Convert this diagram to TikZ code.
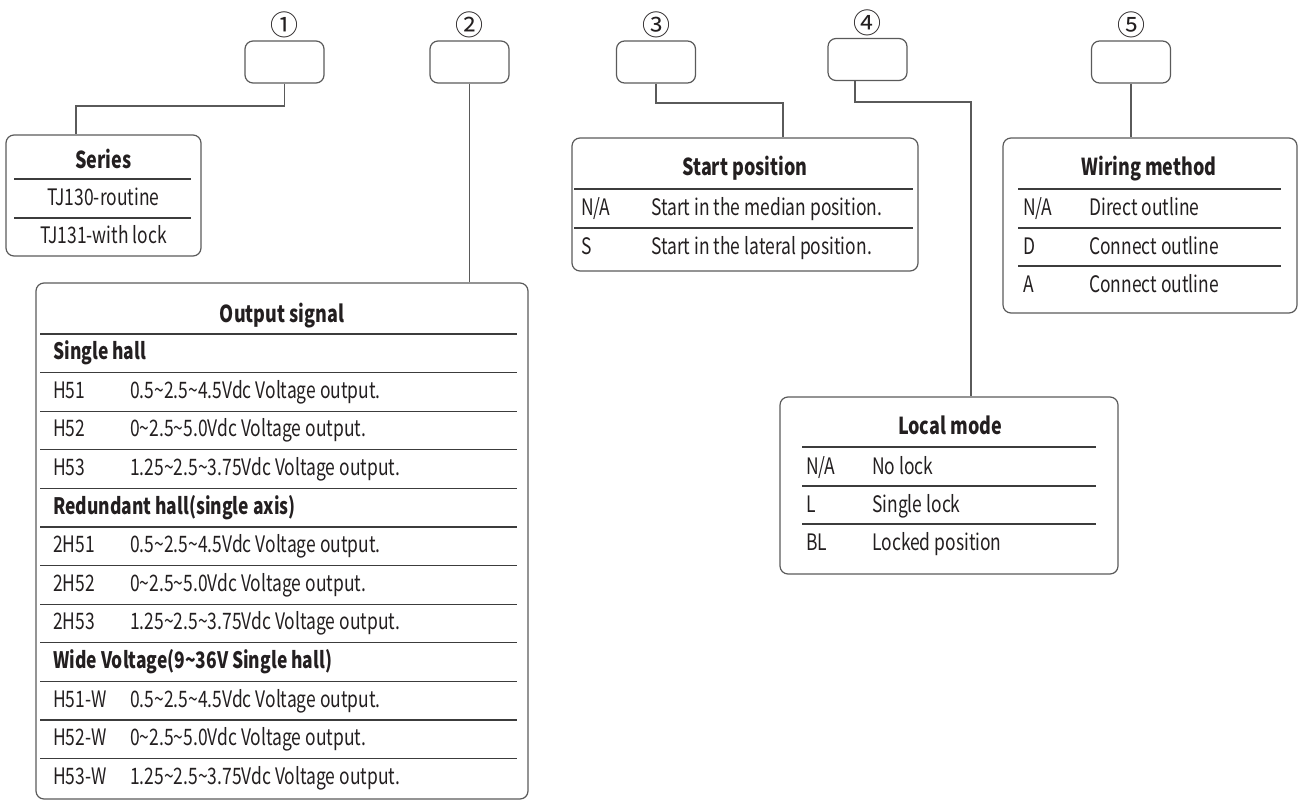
\documentclass[tikz,border=0pt]{standalone}
\usepackage{fontspec}
\setmainfont{Noto Sans CJK SC}[FakeStretch=0.77]
\newfontfamily\circfont{Noto Sans CJK SC}
\usetikzlibrary{positioning}
\definecolor{boxgray}{HTML}{5A5A5A}
\definecolor{rulegray}{HTML}{3C3C3C}
\definecolor{txt}{HTML}{231F20}
\newcommand{\tld}{\textasciitilde{}}
\tikzset{
  keybox/.style={draw=boxgray, line width=0.9pt, rounded corners=6pt, minimum width=59.25pt, minimum height=31.5pt, inner sep=0pt},
  panel/.style={draw=boxgray, line width=0.9pt, rounded corners=6pt, inner sep=0pt},
  numlbl/.style={font=\circfont\fontsize{21}{22}\selectfont, text=txt, inner sep=0pt},
  ttl/.style={font=\fontsize{17.5}{20}\selectfont\bfseries, text=txt, inner sep=0pt, text height=16.8pt, text depth=4pt},
  cell/.style={font=\fontsize{17}{19}\selectfont, text=txt, anchor=west, inner sep=0pt, text height=16.5pt, text depth=4pt},
  ccell/.style={cell, anchor=center},
  grp/.style={cell, font=\fontsize{17}{19}\selectfont\bfseries},
  rule/.style={draw=rulegray, line width=0.8pt},
  wire/.style={draw=boxgray, line width=0.9pt},
}
\begin{document}
\begin{tikzpicture}[x=0.75pt,y=0.75pt,yscale=-1,xscale=1]
\useasboundingbox (0,0) rectangle (1302,810);

% code boxes
\node[keybox] (k1) at (284.5,62) {};
\node[keybox] (k2) at (469.5,62) {};
\node[keybox] (k3) at (656,62) {};
\node[keybox] (k4) at (867.5,59.5) {};
\node[keybox] (k5) at (1131,62) {};
\node[numlbl, above=1.5pt of k1] (n1) {①};
\node[numlbl, above=1.5pt of k2] (n2) {②};
\node[numlbl, above=1.5pt of k3] (n3) {③};
\node[numlbl, above=1.5pt of k4] (n4) {④};
\node[numlbl, above=1.5pt of k5] (n5) {⑤};

% panels
\node[panel, minimum width=146.25pt, minimum height=90.75pt] (series) at (103.5,195.5) {};
\node[panel, minimum width=369pt, minimum height=387pt] (output) at (282,541) {};
\node[panel, minimum width=259.5pt, minimum height=99.75pt] (start) at (745,204.5) {};
\node[panel, minimum width=220.5pt, minimum height=131.25pt] (wiring) at (1150,225.5) {};
\node[panel, minimum width=253.5pt, minimum height=132.75pt] (local) at (949,485.5) {};

% connectors
\coordinate (j1) at (76,106);
\coordinate (j3) at (783,103);
\coordinate (j4) at (971,102);
\draw[wire] (k1.south) |- (j1) -- (j1 |- series.north);
\draw[wire] (k2.south) -- (k2.south |- output.north);
\draw[wire] (k3.south) |- (j3) -- (j3 |- start.north);
\draw[wire] ([xshift=-9.4pt]k4.south) |- (j4) -- (j4 |- local.north);
\draw[wire] (k5.south) -- (k5.south |- wiring.north);

% Series
\node[ttl] (seriesT) at (103.5,160) {Series};
\draw[rule] (14,179) -- (191,179);
\draw[rule] (14,218) -- (191,218);
\node[ccell] (s1) at (103.5,197) {TJ130-routine};
\node[ccell] (s2) at (103.5,235) {TJ131-with lock};

% Output signal
\node[ttl] (outputT) at (282,314) {Output signal};
\draw[rule] (40,334) -- (517,334);
\draw[rule] (40,372.6) -- (517,372.6);
\draw[rule] (40,411.2) -- (517,411.2);
\draw[rule] (40,449.8) -- (517,449.8);
\draw[rule] (40,488.4) -- (517,488.4);
\draw[rule] (40,527) -- (517,527);
\draw[rule] (40,565.6) -- (517,565.6);
\draw[rule] (40,604.2) -- (517,604.2);
\draw[rule] (40,642.8) -- (517,642.8);
\draw[rule] (40,681.4) -- (517,681.4);
\draw[rule] (40,720) -- (517,720);
\draw[rule] (40,758.6) -- (517,758.6);
\node[grp] (g1) at (53,351.5) {Single hall};
\node[cell] (o1) at (53,390) {H51};
\node[cell] (d1) at (130,390) {0.5\tld2.5\tld4.5Vdc Voltage output.};
\node[cell] (o2) at (53,428.5) {H52};
\node[cell] (d2) at (130,428.5) {0\tld2.5\tld5.0Vdc Voltage output.};
\node[cell] (o3) at (53,467) {H53};
\node[cell] (d3) at (130,467) {1.25\tld2.5\tld3.75Vdc Voltage output.};
\node[grp] (g2) at (53,505.7) {Redundant hall(single axis)};
\node[cell] (o4) at (53,544.3) {2H51};
\node[cell] (d4) at (130,544.3) {0.5\tld2.5\tld4.5Vdc Voltage output.};
\node[cell] (o5) at (53,582.9) {2H52};
\node[cell] (d5) at (130,582.9) {0\tld2.5\tld5.0Vdc Voltage output.};
\node[cell] (o6) at (53,621.5) {2H53};
\node[cell] (d6) at (130,621.5) {1.25\tld2.5\tld3.75Vdc Voltage output.};
\node[grp] (g3) at (53,660.1) {Wide Voltage(9\tld36V Single hall)};
\node[cell] (o7) at (53,698.7) {H51-W};
\node[cell] (d7) at (130,698.7) {0.5\tld2.5\tld4.5Vdc Voltage output.};
\node[cell] (o8) at (53,737.3) {H52-W};
\node[cell] (d8) at (130,737.3) {0\tld2.5\tld5.0Vdc Voltage output.};
\node[cell] (o9) at (53,775.9) {H53-W};
\node[cell] (d9) at (130,775.9) {1.25\tld2.5\tld3.75Vdc Voltage output.};

% Start position
\node[ttl] (startT) at (745,167) {Start position};
\draw[rule] (574,189) -- (913,189);
\draw[rule] (574,228) -- (913,228);
\node[cell] (p1) at (581,207) {N/A};
\node[cell] (q1) at (651,207) {Start in the median position.};
\node[cell] (p2) at (581,246) {S};
\node[cell] (q2) at (651,246) {Start in the lateral position.};

% Wiring method
\node[ttl] (wiringT) at (1149,167) {Wiring method};
\draw[rule] (1018,189) -- (1281,189);
\draw[rule] (1018,228) -- (1281,228);
\draw[rule] (1018,266) -- (1281,266);
\node[cell] (w1) at (1023,207) {N/A};
\node[cell] (v1) at (1089,207) {Direct outline};
\node[cell] (w2) at (1023,246) {D};
\node[cell] (v2) at (1089,246) {Connect outline};
\node[cell] (w3) at (1023,284) {A};
\node[cell] (v3) at (1089,284) {Connect outline};

% Local mode
\node[ttl] (localT) at (950,426) {Local mode};
\draw[rule] (802,447) -- (1096,447);
\draw[rule] (802,486) -- (1096,486);
\draw[rule] (802,524) -- (1096,524);
\node[cell] (l1) at (806,466) {N/A};
\node[cell] (m1) at (872,466) {No lock};
\node[cell] (l2) at (806,504) {L};
\node[cell] (m2) at (872,504) {Single lock};
\node[cell] (l3) at (806,542) {BL};
\node[cell] (m3) at (872,542) {Locked position};
\end{tikzpicture}
\end{document}
